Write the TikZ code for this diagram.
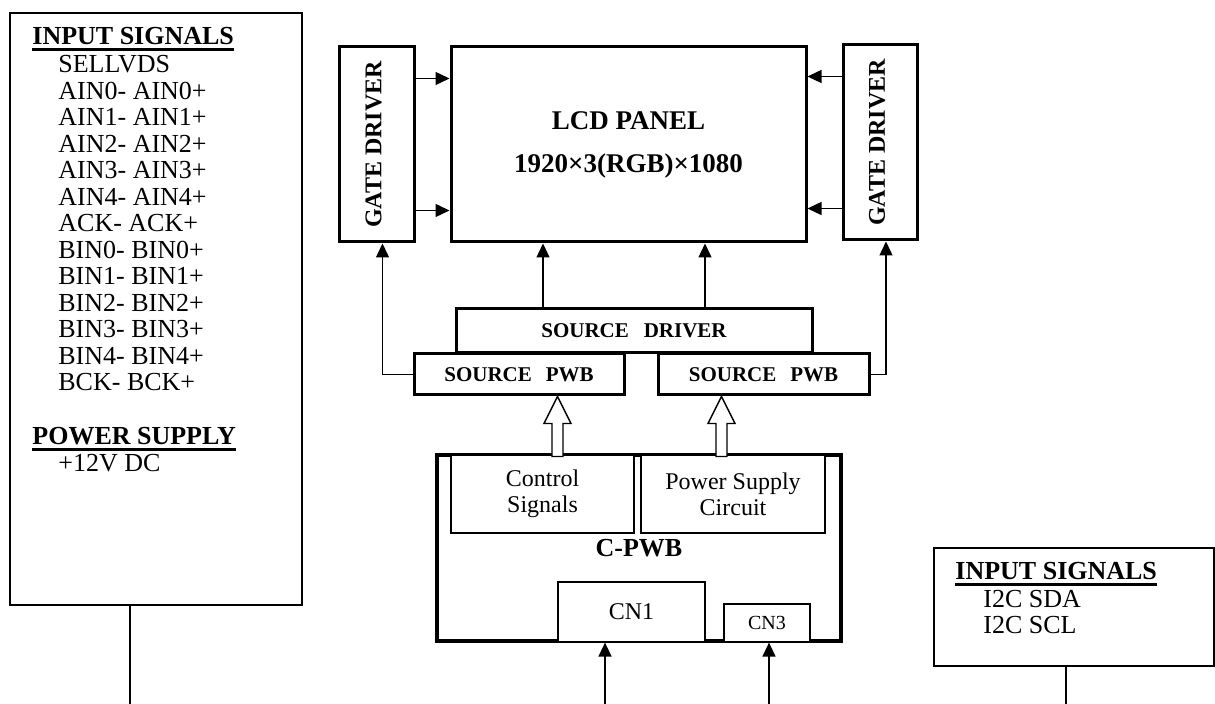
\documentclass[tikz,border=0pt]{standalone}
\usepackage{fontspec}
\setmainfont{Liberation Serif}
\usepackage{tikz}
\usetikzlibrary{arrows.meta, calc}

\newsavebox{\headbox}
\newcommand{\ulhead}[1]{\sbox{\headbox}{\bfseries #1}\rlap{\rule[-3pt]{\wd\headbox}{1.35pt}}\usebox{\headbox}}

\begin{document}
\begin{tikzpicture}[
  bigbox/.style={draw, line width=1.5pt, fill=white, inner sep=0pt, font=\fontsize{10.5}{12}\selectfont\bfseries},
  subbox/.style={draw, line width=0.6pt, fill=white, inner sep=0pt, align=center, font=\fontsize{12}{13}\selectfont},
  sigbox/.style={draw, line width=1pt, inner sep=0pt},
  sigtxt/.style={anchor=base west, inner sep=0pt, font=\fontsize{13}{13}\selectfont},
  gatetxt/.style={rotate=90, inner sep=0pt, font=\fontsize{12}{12}\selectfont\bfseries},
  arr/.style={line width=0.7pt, -{Triangle[length=7pt, width=6.5pt]}},
  wire/.style={line width=0.7pt},
  hollow/.style={line width=0.7pt, fill=white, line join=miter}]
\begin{scope}[x=0.5pt, y=-0.5pt]
\useasboundingbox (0,0) rectangle (1215,704);

% LVDS input box
\node[sigbox, minimum width=146pt, minimum height=296pt] (lvds) at (156,309) {};
\node[sigtxt] (lvdshead) at (32,45) {\ulhead{INPUT SIGNALS}};
\node[sigtxt] (sig1) at (58,73) {SELLVDS};
\node[sigtxt] (sig2) at (58,99.5) {AIN0- AIN0+};
\node[sigtxt] (sig3) at (58,126) {AIN1- AIN1+};
\node[sigtxt] (sig4) at (58,152.5) {AIN2- AIN2+};
\node[sigtxt] (sig5) at (58,179) {AIN3- AIN3+};
\node[sigtxt] (sig6) at (58,205.5) {AIN4- AIN4+};
\node[sigtxt] (sig7) at (58,232) {ACK- ACK+};
\node[sigtxt] (sig8) at (58,258.5) {BIN0- BIN0+};
\node[sigtxt] (sig9) at (58,285) {BIN1- BIN1+};
\node[sigtxt] (sig10) at (58,311.5) {BIN2- BIN2+};
\node[sigtxt] (sig11) at (58,338) {BIN3- BIN3+};
\node[sigtxt] (sig12) at (58,364.5) {BIN4- BIN4+};
\node[sigtxt] (sig13) at (58,391) {BCK- BCK+};
\node[sigtxt] (pwrhead) at (32,445) {\ulhead{POWER SUPPLY}};
\node[sigtxt] (pwr) at (58,472) {+12V DC};
\coordinate (lvdsout) at (130,704);
\draw[wire] (lvds.south -| lvdsout) -- (lvdsout);

% panel and drivers
\node[bigbox, minimum width=37.5pt, minimum height=97.5pt] (gdl) at (376.5,144.5) {};
\node[gatetxt] (gdltxt) at ([xshift=-1.5pt]gdl.center) {GATE DRIVER};
\node[bigbox, minimum width=177.5pt, minimum height=97.5pt, align=center,
  font=\fontsize{13.5}{21.5}\selectfont\bfseries] (lcd) at (628.5,144.5) {LCD PANEL\\1920×3(RGB)×1080};
\node[bigbox, minimum width=37pt, minimum height=97.5pt] (gdr) at (880,142.5) {};
\node[gatetxt] (gdrtxt) at ([xshift=-1.5pt]gdr.center) {GATE DRIVER};

\draw[arr] ([yshift=33pt]gdl.east) -- ([yshift=33pt]gdl.east -| lcd.west);
\draw[arr] ([yshift=-33pt]gdl.east) -- ([yshift=-33pt]gdl.east -| lcd.west);
\draw[arr] ([yshift=33pt]gdr.west) -- ([yshift=33pt]gdr.west -| lcd.east);
\draw[arr] ([yshift=-33pt]gdr.west) -- ([yshift=-33pt]gdr.west -| lcd.east);

\node[bigbox, minimum width=178pt, minimum height=22pt] (srcdrv) at (634,331) {SOURCE\hspace{7.5pt}DRIVER};
\node[bigbox, minimum width=105pt, minimum height=20.5pt] (pwbl) at (519,374.5) {SOURCE\hspace{7pt}PWB};
\node[bigbox, minimum width=105.5pt, minimum height=20.5pt] (pwbr) at (763.5,374.5) {SOURCE\hspace{7pt}PWB};

\draw[arr] ([xshift=-45.5pt]srcdrv.north) -- ([xshift=-45.5pt]srcdrv.north |- lcd.south);
\draw[arr] ([xshift=35.5pt]srcdrv.north) -- ([xshift=35.5pt]srcdrv.north |- lcd.south);
\draw[arr] (pwbl.west) -| ([xshift=3pt]gdl.south);
\draw[arr] (pwbr.east) -| ([xshift=3pt]gdr.south);

% C-PWB
\node[bigbox, line width=1.8pt, minimum width=202pt, minimum height=93pt,
  font=\fontsize{13}{13}\selectfont\bfseries] (cpwb) at (639,548) {C-PWB};
\node[subbox, minimum width=91.5pt, minimum height=39pt] (ctrl) at (542.5,494) {Control\\Signals};
\node[subbox, minimum width=92pt, minimum height=39pt] (psc) at (733,494) {Power Supply\\Circuit};
\node[subbox, minimum width=73.5pt, minimum height=30pt] (cn1) at (631.5,612) {CN1};
\node[subbox, minimum width=43pt, minimum height=19pt, font=\fontsize{10}{10}\selectfont] (cn3) at (767,623) {CN3};

\draw[hollow] ([xshift=19.25pt]pwbl.south) -- ++(13.5,27) -- ++(-8,0) -- ++(0,33) -- ++(-11,0) -- ++(0,-33) -- ++(-8,0) -- cycle;
\draw[hollow] ([xshift=-21pt]pwbr.south) -- ++(13.5,27) -- ++(-8,0) -- ++(0,33) -- ++(-11,0) -- ++(0,-33) -- ++(-8,0) -- cycle;

\coordinate (cn1in) at (605,704);
\coordinate (cn3in) at (769,704);
\draw[arr] (cn1in) -- (cn1in |- cn1.south);
\draw[arr] (cn3in) -- (cn3in |- cn3.south);

% I2C input box
\node[sigbox, minimum width=140pt, minimum height=59pt] (i2c) at (1074,607) {};
\node[sigtxt] (i2chead) at (955,580) {\ulhead{INPUT SIGNALS}};
\node[sigtxt] (sda) at (983,608) {I2C SDA};
\node[sigtxt] (scl) at (983,634) {I2C SCL};
\coordinate (i2cout) at (1066,704);
\draw[wire] (i2c.south -| i2cout) -- (i2cout);

\end{scope}
\end{tikzpicture}
\end{document}
